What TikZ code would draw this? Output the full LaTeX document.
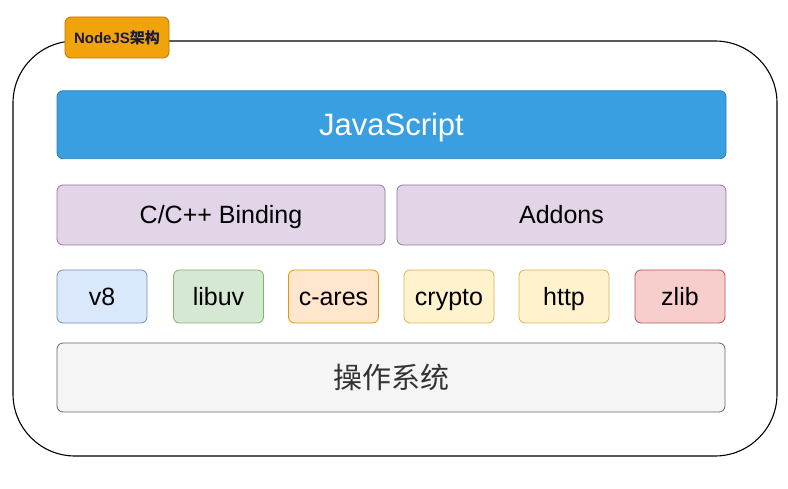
\documentclass[tikz,border=0pt]{standalone}
\usepackage{fontspec}
\setmainfont{Liberation Sans}
\newfontfamily\cjk{Noto Sans CJK SC}
\begin{document}
\begin{tikzpicture}[x=1pt,y=-1pt,
  box/.style={draw, rounded corners=6pt, line width=0.8pt, inner sep=0pt, text height=17.9pt, text depth=0pt, font=\fontsize{25}{30}\selectfont},
  small/.style={box, minimum width=90pt, minimum height=53pt},
]
\useasboundingbox (0,0) rectangle (788,489);
\definecolor{jsfill}{HTML}{3A9FE0}
\definecolor{jsline}{HTML}{2F7FB8}
\definecolor{pfill}{HTML}{E1D5E7}\definecolor{pline}{HTML}{9673A6}
\definecolor{bfill}{HTML}{DAE8FC}\definecolor{bline}{HTML}{6C8EBF}
\definecolor{gfill}{HTML}{D5E8D4}\definecolor{gline}{HTML}{82B366}
\definecolor{ofill}{HTML}{FFE6CC}\definecolor{oline}{HTML}{D79B00}
\definecolor{yfill}{HTML}{FFF2CC}\definecolor{yline}{HTML}{D6B656}
\definecolor{rfill}{HTML}{F8CECC}\definecolor{rline}{HTML}{B85450}
\definecolor{osfill}{HTML}{F5F5F5}\definecolor{osline}{HTML}{666666}
\definecolor{ostext}{HTML}{333333}
\definecolor{tagfill}{HTML}{F0A30A}\definecolor{tagline}{HTML}{BD7000}
\definecolor{tagtext}{HTML}{1A1A3A}

\draw[line width=1.1pt, rounded corners=62pt] (13,41) rectangle (777,456);

\node[draw=tagline, fill=tagfill, rounded corners=6pt, line width=0.8pt, minimum width=104pt, minimum height=41pt, inner sep=0pt, text=tagtext, font=\bfseries\fontsize{15}{18}\selectfont] (tag) at (117,37.5) {NodeJS{\cjk\bfseries 架构}};

\node[box, draw=jsline, fill=jsfill, text=white, minimum width=669pt, minimum height=68pt, text height=22.2pt, font=\fontsize{31}{37}\selectfont] (js) at (391.5,124.7) {JavaScript};

\node[box, draw=pline, fill=pfill, minimum width=328pt, minimum height=60pt] (bind) at (221,215) {C/C++ Binding};
\node[box, draw=pline, fill=pfill, minimum width=329pt, minimum height=60pt] (addons) at (561.5,215) {Addons};

\node[small, draw=bline, fill=bfill] (v8) at (102,296.5) {v8};
\node[small, draw=gline, fill=gfill] (libuv) at (218.5,296.5) {libuv};
\node[small, draw=oline, fill=ofill] (cares) at (333.5,296.5) {c-ares};
\node[small, draw=yline, fill=yfill] (crypto) at (449,296.5) {crypto};
\node[small, draw=yline, fill=yfill] (http) at (564,296.5) {http};
\node[small, draw=rline, fill=rfill] (zlib) at (680,296.5) {zlib};

\node[box, draw=osline, fill=osfill, text=ostext, minimum width=668pt, minimum height=69pt, text height=24pt, text depth=2.5pt, font=\cjk\fontsize{29}{34}\selectfont] (os) at (391,377.5) {操作系统};
\end{tikzpicture}
\end{document}
